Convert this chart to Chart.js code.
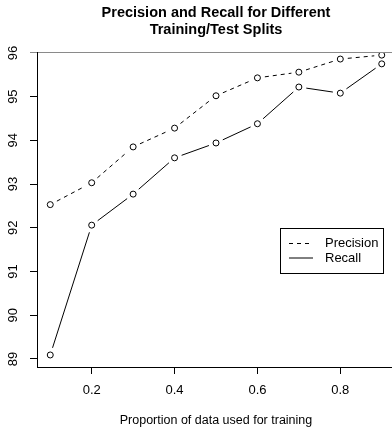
<!DOCTYPE html>
<html>
<head>
<meta charset="utf-8">
<script src="https://cdn.jsdelivr.net/npm/chart.js@4/dist/chart.umd.min.js"></script>
<style>
  html, body { margin: 0; padding: 0; background: #fff; overflow: hidden; }
</style>
</head>
<body>
<canvas id="chart" width="400" height="429"></canvas>
<script>
const proportions = [0.1, 0.2, 0.3, 0.4, 0.5, 0.6, 0.7, 0.8, 0.9];
const precision = [92.53, 93.03, 93.85, 94.28, 95.02, 95.43, 95.56, 95.86, 95.95];
const recall = [89.09, 92.06, 92.77, 93.6, 93.94, 94.38, 95.22, 95.08, 95.75];
const xTicks = [0.2, 0.4, 0.6, 0.8];
const yTicks = [89, 90, 91, 92, 93, 94, 95, 96];

const FONT = "'Liberation Sans', Arial, Helvetica, sans-serif";

// R type="b": segments stop short of each point
const gappedLines = {
  id: "gappedLines",
  beforeDatasetsDraw(chart) {
    const ctx = chart.ctx;
    chart.data.datasets.forEach((ds, i) => {
      const pts = chart.getDatasetMeta(i).data;
      ctx.save();
      ctx.strokeStyle = ds.borderColor;
      ctx.lineWidth = 1;
      for (let k = 0; k < pts.length - 1; k++) {
        const a = pts[k], b = pts[k + 1];
        const dx = b.x - a.x, dy = b.y - a.y;
        const len = Math.hypot(dx, dy);
        const gap = 7.5;
        if (len <= gap * 2) continue;
        const ux = dx / len, uy = dy / len;
        ctx.setLineDash(ds.borderDash || []);
        ctx.beginPath();
        ctx.moveTo(a.x + ux * gap, a.y + uy * gap);
        ctx.lineTo(b.x - ux * gap, b.y - uy * gap);
        ctx.stroke();
      }
      ctx.restore();
    });
  },
};

// y tick labels turned sideways (Chart.js won't rotate vertical-axis labels)
const sidewaysYLabels = {
  id: "sidewaysYLabels",
  afterDraw(chart) {
    const ctx = chart.ctx;
    const y = chart.scales.y;
    ctx.save();
    ctx.font = "13px " + FONT;
    ctx.fillStyle = "#000";
    ctx.textAlign = "center";
    ctx.textBaseline = "middle";
    y.ticks.forEach((t) => {
      ctx.save();
      ctx.translate(13.5, y.getPixelForValue(t.value));
      ctx.rotate(-Math.PI / 2);
      ctx.fillText(String(t.value), 0, 0);
      ctx.restore();
    });
    ctx.restore();
  },
};

// boxed legend inside the plot, like R's legend()
const boxLegend = {
  id: "boxLegend",
  afterDraw(chart) {
    const ctx = chart.ctx;
    const left = 280, top = 228, w = 103, h = 45;
    ctx.save();
    ctx.strokeStyle = "#000";
    ctx.lineWidth = 1;
    ctx.setLineDash([]);
    ctx.strokeRect(left + 0.5, top + 0.5, w, h);
    ctx.font = "13px " + FONT;
    ctx.fillStyle = "#000";
    ctx.textBaseline = "middle";
    chart.data.datasets.forEach((ds, i) => {
      const y = top + 15.5 + i * 14.5;
      ctx.setLineDash(ds.borderDash || []);
      ctx.beginPath();
      ctx.moveTo(left + 9, y);
      ctx.lineTo(left + 33, y);
      ctx.stroke();
      ctx.fillText(ds.label, left + 45, y);
    });
    ctx.restore();
  },
};

new Chart(document.getElementById("chart"), {
  type: "scatter",
  data: {
    datasets: [
      {
        label: "Precision",
        data: proportions.map((x, i) => ({ x, y: precision[i] })),
        borderColor: "#000",
        backgroundColor: "rgba(0,0,0,0)",
        borderDash: [4, 4],
        pointRadius: 3,
        pointBorderWidth: 1,
        showLine: false,
      },
      {
        label: "Recall",
        data: proportions.map((x, i) => ({ x, y: recall[i] })),
        borderColor: "#000",
        backgroundColor: "rgba(0,0,0,0)",
        pointRadius: 3,
        pointBorderWidth: 1,
        showLine: false,
      },
    ],
  },
  options: {
    responsive: false,
    animation: false,
    layout: { padding: 0 },
    plugins: {
      legend: { display: false },
      tooltip: { enabled: false },
      title: {
        display: true,
        fullSize: false,
        text: ["Precision and Recall for Different", "Training/Test Splits"],
        color: "#000",
        font: { family: FONT, size: 14.5, weight: "bold", lineHeight: 1.17 },
        padding: { top: 5, bottom: 14 },
      },
    },
    scales: {
      x: {
        type: "linear",
        min: 0.068,
        max: 0.932,
        afterBuildTicks: (s) => { s.ticks = xTicks.map((v) => ({ value: v })); },
        afterFit: (s) => { s.height = 62; },
        ticks: {
          autoSkip: false,
          padding: 9,
          color: "#000",
          font: { family: FONT, size: 13 },
          callback: (v) => v.toFixed(1),
        },
        grid: { drawOnChartArea: false, tickLength: 7, tickColor: "#000" },
        border: { color: "#000", width: 1 },
        title: {
          display: true,
          text: "Proportion of data used for training",
          color: "#000",
          font: { family: FONT, size: 12.5 },
          padding: { top: 0, bottom: 0.5 },
        },
      },
      y: {
        type: "linear",
        min: 88.815,
        max: 96,
        afterBuildTicks: (s) => { s.ticks = yTicks.map((v) => ({ value: v })); },
        afterFit: (s) => { s.width = 37; },
        ticks: { display: false, autoSkip: false },
        grid: {
          tickLength: 7,
          tickColor: (c) => (c.tick && c.tick.value === 96 ? "#8a8a8a" : "#000"),
          color: (c) => (c.tick && c.tick.value === 96 ? "#8a8a8a" : "rgba(0,0,0,0)"),
        },
        border: { color: "#000", width: 1 },
      },
    },
  },
  plugins: [gappedLines, sidewaysYLabels, boxLegend],
});
</script>
</body>
</html>
